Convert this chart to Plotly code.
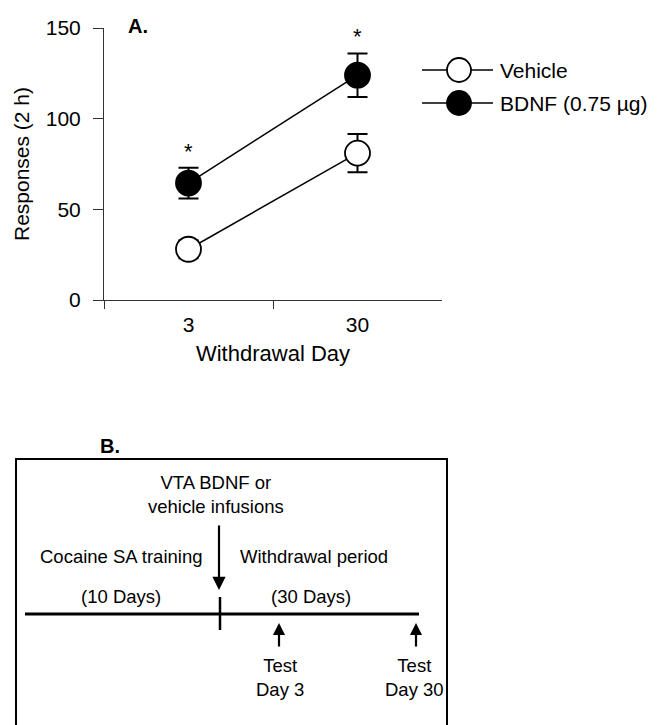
import plotly.graph_objects as go

# ---- data (panel A) ----
days = ["3", "30"]
vehicle = [28, 81]
vehicle_err = [5, 10.5]
bdnf = [64.5, 124]
bdnf_err = [8.5, 12]
series_names = ["Vehicle", "BDNF (0.75 µg)"]
y_ticks = [0, 50, 100, 150]

# ---- timeline text (panel B) ----
infusion_label = "VTA BDNF or<br>vehicle infusions"
phase_labels = ["Cocaine SA training", "Withdrawal period"]
phase_lengths = ["(10 Days)", "(30 Days)"]
test_labels = ["Test<br>Day 3", "Test<br>Day 30"]

W, H = 658, 725
OFF = 8  # page body margin; canvas coords below are screen pixels
FONT = "Liberation Sans, Arial, sans-serif"

fig = go.Figure()

fig.add_trace(go.Scatter(
    x=days, y=vehicle, name=series_names[0], mode="lines+markers",
    line=dict(color="black", width=1.5),
    marker=dict(symbol="circle", size=25, color="white", line=dict(color="black", width=1.8)),
    error_y=dict(type="data", array=vehicle_err, color="black", thickness=2, width=10),
    showlegend=False, xaxis="x", yaxis="y"))
fig.add_trace(go.Scatter(
    x=days, y=bdnf, name=series_names[1], mode="lines+markers",
    line=dict(color="black", width=1.5),
    marker=dict(symbol="circle", size=25, color="black", line=dict(color="black", width=1.8)),
    error_y=dict(type="data", array=bdnf_err, color="black", thickness=2, width=10),
    showlegend=False, xaxis="x", yaxis="y"))

# invisible canvas axis in screen-pixel units
fig.add_trace(go.Scatter(x=[None], y=[None], xaxis="x2", yaxis="y2",
                         showlegend=False, hoverinfo="skip"))

annotations = []
shapes = []

# significance stars
for i, (m, e) in enumerate(zip(bdnf, bdnf_err)):
    annotations.append(dict(x=i, y=m + e, xref="x", yref="y", text="*", showarrow=False,
                            yanchor="bottom", yshift=2, font=dict(family=FONT, size=22, color="black")))

# panel labels
annotations.append(dict(x=138, y=26, xref="x2", yref="y2", text="<b>A.</b>", showarrow=False,
                        font=dict(family=FONT, size=20, color="black")))
annotations.append(dict(x=110, y=446, xref="x2", yref="y2", text="<b>B.</b>", showarrow=False,
                        font=dict(family=FONT, size=20, color="black")))

# manual legend
for i, (nm, fill) in enumerate(zip(series_names, ["white", "black"])):
    yy = 70 + 33 * i
    shapes.append(dict(type="line", xref="x2", yref="y2", x0=422, x1=493, y0=yy, y1=yy,
                       line=dict(color="black", width=1.5)))
    shapes.append(dict(type="circle", xref="x2", yref="y2", x0=447, x1=471, y0=yy - 12, y1=yy + 12,
                       fillcolor=fill, line=dict(color="black", width=1.8)))
    annotations.append(dict(x=498, y=yy, xref="x2", yref="y2", text=nm, showarrow=False,
                            xanchor="left", font=dict(family=FONT, size=21, color="black")))

# panel B diagram
shapes.append(dict(type="rect", xref="x2", yref="y2", x0=16, x1=447, y0=459, y1=760,
                   line=dict(color="black", width=2)))
shapes.append(dict(type="line", xref="x2", yref="y2", x0=25, x1=419, y0=614, y1=614,
                   line=dict(color="black", width=3)))
shapes.append(dict(type="line", xref="x2", yref="y2", x0=220, x1=220, y0=597, y1=630,
                   line=dict(color="black", width=2.5)))

annotations.append(dict(x=219, y=590, ax=219, ay=524, xref="x2", yref="y2", axref="x2", ayref="y2",
                        text="", showarrow=True, arrowhead=2, arrowsize=1.2, arrowwidth=2.2,
                        arrowcolor="black"))
for xx in [279, 416]:
    annotations.append(dict(x=xx, y=623, ax=xx, ay=648, xref="x2", yref="y2", axref="x2", ayref="y2",
                            text="", showarrow=True, arrowhead=2, arrowsize=1.1, arrowwidth=2.2,
                            arrowcolor="black"))

bfont = dict(family=FONT, size=18.5, color="black")
annotations.append(dict(x=216, y=494, xref="x2", yref="y2", text=infusion_label, showarrow=False, font=bfont))
for xx, t in zip([121, 314], phase_labels):
    annotations.append(dict(x=xx, y=556, xref="x2", yref="y2", text=t, showarrow=False, font=bfont))
for xx, t in zip([121, 311], phase_lengths):
    annotations.append(dict(x=xx, y=596, xref="x2", yref="y2", text=t, showarrow=False, font=bfont))
for xx, t in zip([280, 414], test_labels):
    annotations.append(dict(x=xx, y=677, xref="x2", yref="y2", text=t, showarrow=False, font=bfont))

fig.update_layout(
    template="none",
    width=W, height=H, margin=dict(l=0, r=0, t=0, b=0, autoexpand=False),
    paper_bgcolor="white", plot_bgcolor="rgba(0,0,0,0)",
    font=dict(family=FONT, size=21, color="black"),
    showlegend=False,
    xaxis=dict(domain=[(104 - OFF) / W, (442 - OFF) / W], type="category", range=[-0.5, 1.5],
               tickson="boundaries", ticks="outside", ticklen=8, tickcolor="#333", tickwidth=1,
               showline=True, linecolor="#333", linewidth=1, showgrid=False, zeroline=False,
               anchor="y", ticklabelstandoff=6, automargin=False,
               tickfont=dict(size=21),
               title=dict(text="Withdrawal Day", standoff=10, font=dict(size=22))),
    yaxis=dict(domain=[(H - (300 - OFF)) / H, (H - (28 - OFF)) / H], range=[0, 150], tickvals=y_ticks,
               ticks="outside", ticklen=10, tickcolor="#333", tickwidth=1,
               showline=True, linecolor="#333", linewidth=1, showgrid=False, zeroline=False,
               anchor="x", ticklabelstandoff=8, automargin=False,
               tickfont=dict(size=21),
               title=dict(text="Responses (2 h)", standoff=10, font=dict(size=21))),
    xaxis2=dict(domain=[0, 1], range=[OFF, W + OFF], visible=False, anchor="y2", fixedrange=True),
    yaxis2=dict(domain=[0, 1], range=[H + OFF, OFF], visible=False, anchor="x2", fixedrange=True),
    shapes=shapes, annotations=annotations,
)

fig.write_html("out.html")
